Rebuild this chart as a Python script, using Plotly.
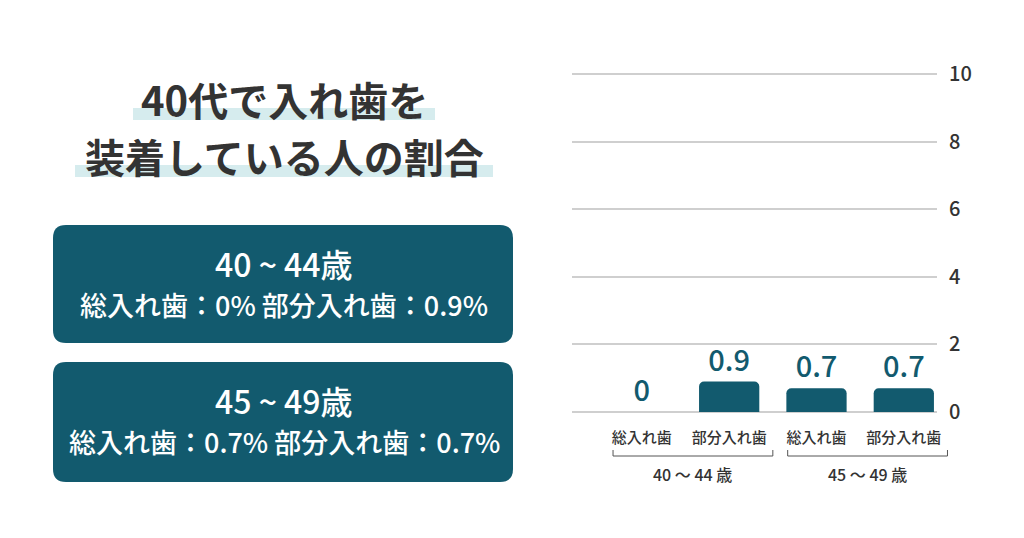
import plotly.graph_objects as go

W, H = 1024, 538
OFF = 8  # the page body adds an 8px margin around the figure

# data
groups = ["40 ～ 44 歳", "45 ～ 49 歳"]
types = ["総入れ歯", "部分入れ歯"]
values = [0, 0.9, 0.7, 0.7]
y_ticks = [0, 2, 4, 6, 8, 10]
title_lines = ["40代で入れ歯を", "装着している人の割合"]
box_heads = ["40 ~ 44歳", "45 ~ 49歳"]

TEAL = "#125a6e"
DARK = "#333333"
BAND = "#d6ecee"
FONT = "Noto Sans CJK JP"

X0, X1 = -0.8, 3.38
Y_TOP = 10.05


def px(x):
    return (x - OFF) / W


def py(y):
    return 1 - (y - OFF) / H


def cat_x(c):
    # category index -> x domain fraction
    return (c - X0) / (X1 - X0)


keys = [f"{g}|{t}" for g in groups for t in types]
tick_text = [t for g in groups for t in types]

fig = go.Figure()
fig.add_trace(go.Bar(
    x=keys, y=values, width=0.69,
    marker=dict(color=TEAL, line=dict(width=0)),
    text=[f"{v:g}" for v in values],
    textposition="outside",
    textfont=dict(size=29, color=TEAL, family=FONT, weight=500),
    cliponaxis=False, constraintext="none",
    hoverinfo="skip",
))

shapes = []
annotations = []


def label(x, y, text, size, color=DARK, weight=500, xref="paper"):
    annotations.append(dict(xref=xref, yref="paper", x=x, y=y, text=text,
                            xanchor="center", yanchor="middle", showarrow=False,
                            font=dict(size=size, color=color, family=FONT, weight=weight)))


# title with highlight bands
bands = [(133, 435, 108, 120), (75, 493, 165, 177)]
title_y = [99, 156]
for (bx0, bx1, by0, by1), line, ty in zip(bands, title_lines, title_y):
    shapes.append(dict(type="rect", xref="paper", yref="paper",
                       x0=px(bx0), x1=px(bx1), y0=py(by1), y1=py(by0),
                       fillcolor=BAND, line=dict(width=0), layer="below"))
    label(px(284), py(ty), line, 40, weight=700)


def round_rect(x0, y0, x1, y1, r):
    rx, ry = r / W, r / H
    a, b, c, d = px(x0), py(y1), px(x1), py(y0)
    return (f"M {a + rx},{b} L {c - rx},{b} Q {c},{b} {c},{b + ry} "
            f"L {c},{d - ry} Q {c},{d} {c - rx},{d} L {a + rx},{d} "
            f"Q {a},{d} {a},{d - ry} L {a},{b + ry} Q {a},{b} {a + rx},{b} Z")


# info boxes
boxes = [(53, 225, 513, 343), (53, 362, 513, 482)]
for i, (bx0, by0, bx1, by1) in enumerate(boxes):
    v_full, v_part = values[2 * i], values[2 * i + 1]
    detail = f"{types[0]}：{v_full:g}% {types[1]}：{v_part:g}%"
    shapes.append(dict(type="path", xref="paper", yref="paper",
                       path=round_rect(bx0, by0, bx1, by1, 13),
                       fillcolor=TEAL, line=dict(width=0), layer="below"))
    label(px(284), py(by0 + 38), box_heads[i], 32, color="white")
    label(px(284), py(by0 + 79), detail, 27, color="white")

# group brackets under the x axis
for i, g in enumerate(groups):
    xa = cat_x(2 * i - 0.33)
    xb = cat_x(2 * i + 1 + 0.5)
    yb, yt = py(456), py(450)
    for (lx0, ly0, lx1, ly1) in [(xa, yt, xa, yb), (xa, yb, xb, yb), (xb, yb, xb, yt)]:
        shapes.append(dict(type="line", xref="x domain", yref="paper",
                           x0=lx0, y0=ly0, x1=lx1, y1=ly1,
                           line=dict(color="#555555", width=1)))
    label((xa + xb) / 2, py(474), g, 16, xref="x domain")

fig.update_layout(
    width=W, height=H,
    margin=dict(l=0, r=0, t=0, b=0, pad=0, autoexpand=False),
    paper_bgcolor="white", plot_bgcolor="white",
    showlegend=False,
    barcornerradius=5,
    font=dict(family=FONT, color=DARK),
    shapes=shapes,
    annotations=annotations,
    xaxis=dict(
        type="category", domain=[px(572), px(937)], range=[X0, X1],
        tickvals=keys, ticktext=tick_text,
        tickfont=dict(size=15, color=DARK, family=FONT, weight=500),
        ticks="outside", ticklen=12, tickcolor="rgba(0,0,0,0)",
        showgrid=False, showline=False, zeroline=False, fixedrange=True,
        automargin=False,
    ),
    yaxis=dict(
        domain=[py(412), py(412 - 33.8 * Y_TOP)], range=[0, Y_TOP], side="right",
        tickvals=y_ticks,
        tickfont=dict(size=20, color=DARK, family=FONT, weight=500),
        ticks="outside", ticklen=7, tickcolor="rgba(0,0,0,0)",
        showgrid=True, gridcolor="#cfcfcf", gridwidth=1.5,
        zeroline=True, zerolinecolor="#cfcfcf", zerolinewidth=1.5,
        showline=False, fixedrange=True, automargin=False,
    ),
)

fig.write_html("out.html")
